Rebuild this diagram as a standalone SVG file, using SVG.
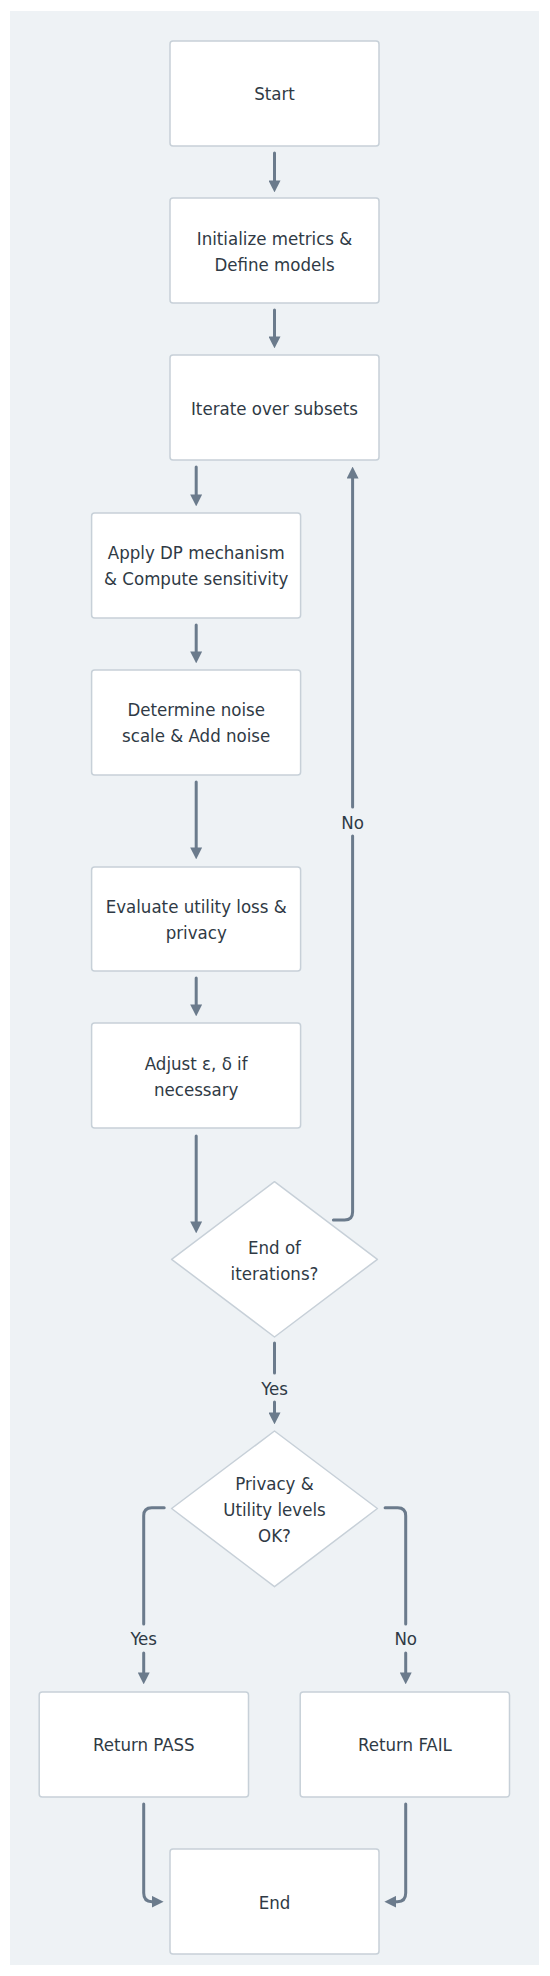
<svg xmlns="http://www.w3.org/2000/svg" width="550" height="1976" viewBox="0 0 550 1976">
<style>
.node{fill:#ffffff;stroke:#c7d0d8;stroke-width:1.5}
.t{font-family:"DejaVu Sans Condensed","Liberation Sans",Arial,sans-serif;font-size:18.5px;fill:#2f3a45;text-anchor:middle}
.c{fill:none;stroke:#6b7b8c;stroke-width:3;stroke-linecap:round;stroke-linejoin:round}
.lbl{font-family:"DejaVu Sans Condensed","Liberation Sans",Arial,sans-serif;font-size:18.5px;fill:#2f3a45;text-anchor:middle}
</style>
<defs>
<marker id="ah" markerUnits="userSpaceOnUse" markerWidth="12" markerHeight="12" viewBox="0 0 10 10" refX="3" refY="5" orient="auto">
<path d="M0,0 L10,5 L0,10 z" fill="#6b7b8c"/>
</marker>
</defs>
<rect x="0" y="0" width="550" height="1976" fill="#ffffff"/>
<rect x="10" y="11" width="529" height="1954" fill="#eef2f5"/>

<g id="connectors">
<path class="c" marker-end="url(#ah)" d="M274.5,153 V184"/>
<path class="c" marker-end="url(#ah)" d="M274.5,310 V340"/>
<path class="c" marker-end="url(#ah)" d="M196.2,467 V498"/>
<path class="c" marker-end="url(#ah)" d="M196.2,625 V655"/>
<path class="c" marker-end="url(#ah)" d="M196.2,782 V851"/>
<path class="c" marker-end="url(#ah)" d="M196.2,978 V1008"/>
<path class="c" marker-end="url(#ah)" d="M196.2,1136 V1225"/>
<path class="c" d="M333.4,1220 H344.6 Q352.6,1220 352.6,1212 V836"/>
<path class="c" marker-end="url(#ah)" d="M352.6,807 V475"/>
<text class="lbl" x="352.6" y="829">No</text>
<path class="c" d="M274.5,1343 V1373"/>
<text class="lbl" x="274.5" y="1395">Yes</text>
<path class="c" marker-end="url(#ah)" d="M274.5,1402 V1416"/>
<path class="c" d="M164.2,1507.7 H151.7 Q143.7,1507.7 143.7,1515.7 V1624"/>
<text class="lbl" x="143.7" y="1645">Yes</text>
<path class="c" marker-end="url(#ah)" d="M143.7,1653 V1676"/>
<path class="c" d="M385.1,1507.7 H397.7 Q405.7,1507.7 405.7,1515.7 V1624"/>
<text class="lbl" x="405.7" y="1645">No</text>
<path class="c" marker-end="url(#ah)" d="M405.7,1653 V1676"/>
<path class="c" marker-end="url(#ah)" d="M143.7,1804 V1893 Q143.7,1901.7 152,1901.7 H155.2"/>
<path class="c" marker-end="url(#ah)" d="M405.7,1804 V1893 Q405.7,1901.7 397.5,1901.7 H392.8"/>
</g>

<g id="start"><rect class="node" x="170" y="41" width="209" height="105" rx="3"/><text class="t" x="274.5" y="99.5">Start</text></g>
<g id="init"><rect class="node" x="170" y="198" width="209" height="105" rx="3"/><text class="t" x="274.5" y="244.5">Initialize metrics &amp;</text><text class="t" x="274.5" y="270.5">Define models</text></g>
<g id="iterate"><rect class="node" x="170" y="355" width="209" height="105" rx="3"/><text class="t" x="274.5" y="414.5">Iterate over subsets</text></g>
<g id="applydp"><rect class="node" x="91.6" y="513" width="209" height="105" rx="3"/><text class="t" x="196.2" y="559">Apply DP mechanism</text><text class="t" x="196.2" y="585">&amp; Compute sensitivity</text></g>
<g id="noise"><rect class="node" x="91.6" y="670" width="209" height="105" rx="3"/><text class="t" x="196.2" y="716">Determine noise</text><text class="t" x="196.2" y="742">scale &amp; Add noise</text></g>
<g id="evaluate"><rect class="node" x="91.6" y="867" width="209" height="104" rx="3"/><text class="t" x="196.2" y="912.5">Evaluate utility loss &amp;</text><text class="t" x="196.2" y="939">privacy</text></g>
<g id="adjust"><rect class="node" x="91.6" y="1023" width="209" height="105" rx="3"/><text class="t" x="196.2" y="1069.5">Adjust ε, δ if</text><text class="t" x="196.2" y="1096">necessary</text></g>
<g id="enditer"><polygon class="node" points="274.5,1181.7 377.4,1259.3 274.5,1337 171.6,1259.3" stroke-linejoin="round"/><text class="t" x="274.5" y="1253.5">End of</text><text class="t" x="274.5" y="1280">iterations?</text></g>
<g id="check"><polygon class="node" points="274.5,1431 377.4,1508.5 274.5,1586.7 171.6,1508.5" stroke-linejoin="round"/><text class="t" x="274.5" y="1489.5">Privacy &amp;</text><text class="t" x="274.5" y="1515.8">Utility levels</text><text class="t" x="274.5" y="1541.8">OK?</text></g>
<g id="pass"><rect class="node" x="39.2" y="1692" width="209.3" height="105" rx="3"/><text class="t" x="143.8" y="1751">Return PASS</text></g>
<g id="fail"><rect class="node" x="300.2" y="1692" width="209.3" height="105" rx="3"/><text class="t" x="404.9" y="1751">Return FAIL</text></g>
<g id="end"><rect class="node" x="170" y="1849" width="209" height="105" rx="3"/><text class="t" x="274.5" y="1908.5">End</text></g>
</svg>
